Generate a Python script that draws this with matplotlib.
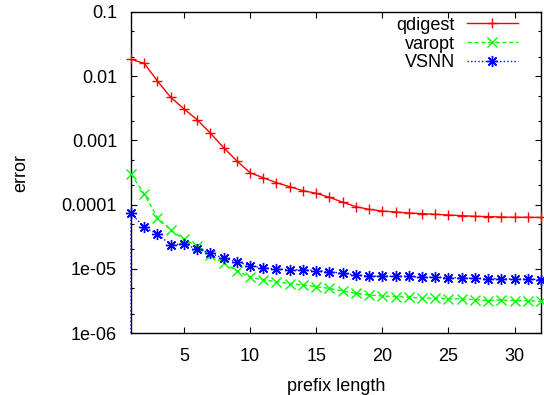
import matplotlib
matplotlib.use("Agg")
import matplotlib.pyplot as plt
from matplotlib.ticker import FixedLocator, FixedFormatter, LogLocator, NullFormatter

# data
prefix_len = list(range(1, 33))
qdigest = [0.0183, 0.0159, 0.0084, 0.0047, 0.0031, 0.0021, 0.0013, 0.00077,
           0.00048, 0.000314, 0.000262, 0.000219, 0.00019, 0.000165, 0.00015, 0.00013,
           0.000109, 0.000093, 0.0000844, 0.0000794, 0.0000767, 0.000074, 0.0000723, 0.0000706,
           0.0000689, 0.0000672, 0.0000657, 0.000065, 0.0000641, 0.0000635, 0.0000635, 0.000063]
varopt = [0.0003, 0.000146, 0.0000625, 0.0000402, 0.0000288, 0.0000226, 0.0000164, 0.0000122,
          0.0000093, 0.0000074, 0.0000067, 0.0000063, 0.0000059, 0.0000056, 0.00000526, 0.00000495,
          0.0000045, 0.00000415, 0.0000039, 0.00000377, 0.0000037, 0.0000036, 0.0000035, 0.0000035,
          0.0000034, 0.0000034, 0.0000033, 0.0000032, 0.00000327, 0.0000032, 0.0000032, 0.0000031]
vsnn = [0.0000731, 0.0000443, 0.0000348, 0.0000238, 0.0000243, 0.0000203, 0.0000174, 0.0000146,
        0.0000129, 0.0000112, 0.0000104, 0.0000099, 0.0000097, 0.0000096, 0.0000094, 0.000009,
        0.0000085, 0.000008, 0.0000077, 0.0000077, 0.0000076, 0.0000076, 0.0000074, 0.0000074,
        0.0000073, 0.0000072, 0.0000071, 0.000007, 0.000007, 0.0000069, 0.0000069, 0.0000068]
vsnn_start = 1e-06  # VSNN line comes up from the bottom edge at prefix 1

y_ticks = [1e-06, 1e-05, 1e-04, 1e-03, 1e-02, 1e-01]
y_ticklabels = ["1e-06", "1e-05", "0.0001", "0.001", "0.01", "0.1"]
x_ticks = [5, 10, 15, 20, 25, 30]

plt.rcParams['font.family'] = ['Liberation Sans', 'DejaVu Sans']
plt.rcParams['font.size'] = 13

fig = plt.figure(figsize=(5.44, 3.95), dpi=100)
ax = fig.add_axes([131 / 544, 1 - 333 / 395, 410 / 544, 321 / 395])

ax.plot(prefix_len, qdigest, color='#ff0000', lw=1.0, marker='+', ms=7.5, mew=1.0,
        label='qdigest', clip_on=False, zorder=3)
ax.plot(prefix_len, varopt, color='#00ff00', lw=1.0, ls=(0, (3, 2)), marker='x', ms=7, mew=1.0,
        label='varopt', clip_on=False, zorder=3)
ax.plot([prefix_len[0]] + prefix_len, [vsnn_start] + vsnn, color='#0000ff', lw=1.0,
        ls=(0, (1, 1.6)), marker=(8, 2, 0), ms=8, mew=1.0, markevery=slice(1, None),
        label='VSNN', clip_on=False, zorder=3)

ax.set_yscale('log')
ax.set_xlim(1, 32)
ax.set_ylim(1e-06, 0.1)
ax.yaxis.set_major_locator(FixedLocator(y_ticks))
ax.yaxis.set_major_formatter(FixedFormatter(y_ticklabels))
ax.yaxis.set_minor_locator(LogLocator(base=10, subs=(2.0, 5.0)))
ax.yaxis.set_minor_formatter(NullFormatter())
ax.set_xticks(x_ticks)

# gnuplot look: ticks inside, mirrored on all four sides
ax.tick_params(which='both', direction='in', top=True, right=True, width=0.8)
ax.tick_params(which='major', length=4.5)
ax.tick_params(which='minor', length=2.3)
ax.tick_params(axis='x', pad=10.5)
ax.tick_params(axis='y', pad=10)
for s in ax.spines.values():
    s.set_linewidth(1.0)

ax.set_xlabel('prefix length')
ax.xaxis.set_label_coords(0.5, -0.141)
ax.set_ylabel('error')
ax.yaxis.set_label_coords(-0.249, 0.5)

# labels right-aligned, samples on the right
ax.legend(loc='upper right', bbox_to_anchor=(0.943, 0.985), frameon=False,
          markerfirst=False, borderpad=0, borderaxespad=0, handlelength=2.82,
          handletextpad=0.65, labelspacing=0.1, numpoints=1)

fig.savefig('out.png', dpi=100)
